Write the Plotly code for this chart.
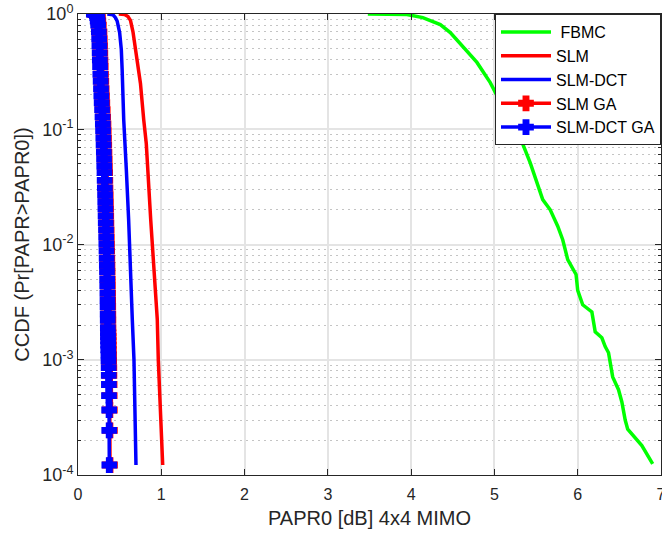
import plotly.graph_objects as go

# ---------------- data ----------------
fbmc_papr = [3.48, 3.95, 4.14, 4.35, 4.47, 4.62, 4.79, 4.95, 5.10, 5.27, 5.43, 5.58, 5.67,
             5.76, 5.82, 5.88, 5.98, 6.00, 6.06, 6.17, 6.21, 6.29, 6.33, 6.37, 6.39, 6.42,
             6.49, 6.53, 6.57, 6.60, 6.77, 6.90]
fbmc_ccdf = [1.0, 0.99, 0.93, 0.81, 0.69, 0.52, 0.38, 0.254, 0.157, 0.10, 0.051, 0.0245, 0.020,
             0.0144, 0.011, 0.0074, 0.0055, 0.0040, 0.0030, 0.0026, 0.00175, 0.00155, 0.0013,
             0.00115, 0.00095, 0.00071, 0.00055, 0.00043, 0.0003, 0.00025, 0.00018, 0.000125]

slm_papr = [0.49, 0.56, 0.60, 0.63, 0.66, 0.69, 0.72, 0.75, 0.789, 0.82, 0.873, 0.91,
            0.952, 0.964, 0.99, 1.017]
slm_ccdf = [1.0, 0.99, 0.95, 0.88, 0.70, 0.50, 0.36, 0.25, 0.121, 0.075, 0.0164, 0.0065,
            0.00223, 0.0010, 0.0004, 0.000122]

slmdct_papr = [0.352, 0.42, 0.45, 0.47, 0.50, 0.52, 0.53, 0.536, 0.549, 0.58, 0.608,
               0.652, 0.672, 0.696]
slmdct_ccdf = [1.0, 0.985, 0.93, 0.87, 0.69, 0.49, 0.33, 0.18, 0.121, 0.045, 0.0164,
               0.00223, 0.001, 0.000122]

ga_ccdf = [1.0, 0.998, 0.99, 0.97, 0.93, 0.87, 0.8, 0.7, 0.61, 0.53,
           0.46, 0.40, 0.35, 0.30, 0.26, 0.225, 0.195, 0.17, 0.148, 0.128,
           0.111, 0.097, 0.084, 0.073, 0.063, 0.055, 0.048, 0.042, 0.036, 0.031,
           0.027, 0.0235, 0.0204, 0.0177, 0.0154, 0.0134, 0.0116, 0.0101, 0.0088, 0.0076,
           0.0066, 0.0058, 0.005, 0.0044, 0.0038, 0.0033, 0.0029, 0.0025, 0.0022, 0.0019,
           0.00171, 0.00159, 0.00146, 0.00134, 0.00122, 0.0011, 0.000977, 0.000854, 0.000732, 0.00061,
           0.000488, 0.000366, 0.000244, 0.000122]

slm_ga_papr = [0.198, 0.213, 0.226, 0.234, 0.239, 0.244, 0.25, 0.258, 0.262, 0.265,
               0.268, 0.27, 0.273, 0.276, 0.28, 0.284, 0.288, 0.292, 0.297, 0.302,
               0.306, 0.309, 0.312, 0.315, 0.318, 0.321, 0.323, 0.326, 0.328, 0.33,
               0.333, 0.335, 0.337, 0.339, 0.341, 0.344, 0.346, 0.348, 0.35, 0.352,
               0.354, 0.356, 0.358, 0.359, 0.361, 0.362, 0.363, 0.364, 0.365, 0.366,
               0.367, 0.368, 0.369, 0.37, 0.371, 0.373, 0.374, 0.376, 0.377, 0.379,
               0.38, 0.382, 0.383, 0.384]

slmdct_ga_papr = [0.19, 0.205, 0.218, 0.226, 0.231, 0.236, 0.242, 0.25, 0.254, 0.257,
                  0.26, 0.262, 0.265, 0.268, 0.272, 0.276, 0.28, 0.284, 0.289, 0.294,
                  0.298, 0.301, 0.304, 0.307, 0.31, 0.313, 0.315, 0.318, 0.32, 0.322,
                  0.325, 0.327, 0.329, 0.331, 0.333, 0.336, 0.338, 0.34, 0.342, 0.344,
                  0.346, 0.348, 0.35, 0.351, 0.353, 0.354, 0.355, 0.356, 0.357, 0.358,
                  0.359, 0.36, 0.361, 0.362, 0.363, 0.365, 0.366, 0.368, 0.369, 0.371,
                  0.372, 0.374, 0.375, 0.376]

series_names = ["\u00a0FBMC", "SLM", "SLM-DCT", "SLM GA", "SLM-DCT GA"]

x_ticks = [0, 1, 2, 3, 4, 5, 6, 7]
y_ticks = [1e-4, 1e-3, 1e-2, 1e-1, 1]
y_ticktext = ["10<sup>-4</sup>", "10<sup>-3</sup>", "10<sup>-2</sup>", "10<sup>-1</sup>", "10<sup>0</sup>"]

# ---------------- figure ----------------
FONT = "Liberation Sans, Arial, Helvetica, sans-serif"
TXT = "#262626"
GREEN, RED, BLUE = "#00ff00", "#ff0000", "#0000ff"

fig = go.Figure()
fig.add_trace(go.Scatter(x=fbmc_papr, y=fbmc_ccdf, mode="lines", name=series_names[0],
                         line=dict(color=GREEN, width=3.5)))
fig.add_trace(go.Scatter(x=slm_papr, y=slm_ccdf, mode="lines", name=series_names[1],
                         line=dict(color=RED, width=3.5)))
fig.add_trace(go.Scatter(x=slmdct_papr, y=slmdct_ccdf, mode="lines", name=series_names[2],
                         line=dict(color=BLUE, width=3.5)))
fig.add_trace(go.Scatter(x=slm_ga_papr, y=ga_ccdf, mode="lines+markers", name=series_names[3],
                         line=dict(color=RED, width=3.5),
                         marker=dict(symbol="cross", size=11, color=RED,
                                     line=dict(color=RED, width=2.5))))
fig.add_trace(go.Scatter(x=slmdct_ga_papr, y=ga_ccdf, mode="lines+markers", name=series_names[4],
                         line=dict(color=BLUE, width=3.5),
                         marker=dict(symbol="cross", size=11, color=BLUE,
                                     line=dict(color=BLUE, width=2.5))))

minor_y = [m * 10.0 ** e for e in range(-4, 0) for m in range(2, 10)]

fig.update_layout(
    width=662, height=536,
    margin=dict(l=78, r=1, t=14, b=61, autoexpand=False),
    paper_bgcolor="white", plot_bgcolor="white",
    font=dict(family=FONT, size=16, color=TXT),
    showlegend=True,
    legend=dict(x=1, y=1, xanchor="right", yanchor="top",
                bgcolor="white", bordercolor=TXT, borderwidth=1,
                font=dict(family=FONT, size=16, color="black"),
                itemwidth=50, tracegroupgap=0),
    xaxis=dict(
        title=dict(text="PAPR0 [dB] 4x4 MIMO", font=dict(size=20, color=TXT), standoff=8),
        range=[0, 7], tickmode="array", tickvals=x_ticks, automargin=False,
        ticks="inside", ticklen=6, tickcolor=TXT, tickwidth=1,
        showline=True, linecolor=TXT, linewidth=1, mirror="ticks",
        showgrid=True, gridcolor="#e4e4e4", gridwidth=1.5, zeroline=False,
        tickfont=dict(size=16, color=TXT), ticklabelstandoff=5,
        ticklabeloverflow="allow",
    ),
    yaxis=dict(
        title=dict(text="CCDF (Pr[PAPR>PAPR0])", font=dict(size=20, color=TXT), standoff=7),
        type="log", range=[-4, 0], tickmode="array", tickvals=y_ticks, ticktext=y_ticktext,
        automargin=False,
        ticks="inside", ticklen=6, tickcolor=TXT, tickwidth=1,
        showline=True, linecolor=TXT, linewidth=1, mirror="ticks",
        showgrid=True, gridcolor="#e4e4e4", gridwidth=1.5, zeroline=False,
        tickfont=dict(size=18, color=TXT), ticklabeloverflow="allow",
        minor=dict(tickmode="array", tickvals=minor_y, ticks="inside", ticklen=3,
                   tickcolor=TXT, showgrid=True, gridcolor="#c4c4c4",
                   griddash="1.5px,4.5px", gridwidth=1),
    ),
)

fig.write_html("out.html",
               config={"displayModeBar": False},
               post_script="document.body.style.margin='0px';"
                           "document.body.style.overflow='hidden';")
